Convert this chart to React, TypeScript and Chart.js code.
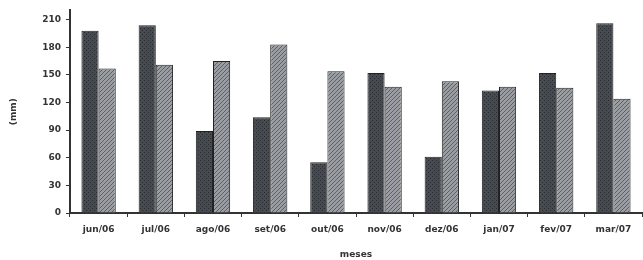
import React, { useEffect, useRef } from "react";
import { Chart, registerables } from "chart.js";

Chart.register(...registerables);

const categories = ["jun/06", "jul/06", "ago/06", "set/06", "out/06", "nov/06", "dez/06", "jan/07", "fev/07", "mar/07"];
const seriesDark = [198, 204, 89, 104, 55, 152, 61, 133, 152, 206];
const seriesLight = [157, 161, 165, 183, 154, 137, 143, 137, 136, 124];
const yTicks = [0, 30, 60, 90, 120, 150, 180, 210];
const yTitle = "(mm)";
const xTitle = "meses";

function makePattern(bg: string, fg: string, diagonal: boolean): CanvasPattern | string {
  const c = document.createElement("canvas");
  c.width = 4;
  c.height = 4;
  const ctx = c.getContext("2d");
  if (!ctx) return bg;
  ctx.fillStyle = bg;
  ctx.fillRect(0, 0, 4, 4);
  ctx.fillStyle = fg;
  if (diagonal) {
    for (let i = 0; i < 4; i++) ctx.fillRect(i, 3 - i, 1, 1);
  } else {
    ctx.fillRect(0, 0, 1, 1);
    ctx.fillRect(2, 2, 1, 1);
  }
  const p = ctx.createPattern(c, "repeat");
  return p || bg;
}

export default function App() {
  const ref = useRef<HTMLCanvasElement | null>(null);
  useEffect(() => {
    if (!ref.current) return;
    const font = { family: "'DejaVu Sans', sans-serif", size: 9, weight: "bold" as const };
    const chart = new Chart(ref.current, {
      type: "bar",
      data: {
        labels: categories,
        datasets: [
          {
            data: seriesDark,
            backgroundColor: makePattern("#464b51", "#272b30", false),
            borderColor: "#222",
            borderWidth: 1,
            categoryPercentage: 0.6,
            barPercentage: 1,
          },
          {
            data: seriesLight,
            backgroundColor: makePattern("#9a9ea2", "#5c6066", true),
            borderColor: "#222",
            borderWidth: 1,
            categoryPercentage: 0.6,
            barPercentage: 1,
          },
        ],
      },
      options: {
        animation: false,
        responsive: false,
        maintainAspectRatio: false,
        layout: { padding: { left: 8, right: 1, top: 0, bottom: 0 } },
        plugins: { legend: { display: false }, tooltip: { enabled: false } },
        scales: {
          x: {
            grid: { display: true, drawOnChartArea: false, drawTicks: true, tickLength: 4, color: "#333", lineWidth: 1, offset: true },
            border: { display: true, color: "#333", width: 2 },
            ticks: { color: "#333", font, padding: 7, maxRotation: 0, autoSkip: false },
            title: { display: true, text: xTitle, color: "#333", font, padding: { top: 4, bottom: 0 } },
            afterFit: (s: any) => { s.height = 47; },
          },
          y: {
            min: 0,
            max: 220,
            afterBuildTicks: (s: any) => { s.ticks = yTicks.map((v) => ({ value: v })); },
            grid: { display: true, drawOnChartArea: false, drawTicks: true, tickLength: 4, color: "#333", lineWidth: 1 },
            border: { display: true, color: "#333", width: 2 },
            ticks: { color: "#333", font, padding: 5 },
            title: { display: true, text: yTitle, color: "#333", font, padding: { top: 0, bottom: 6 } },
            afterFit: (s: any) => { s.width = 62; },
          },
        },
      },
    });
    return () => chart.destroy();
  }, []);
  return (
    <div style={{ position: "fixed", left: 0, top: 0, width: 643, height: 260, background: "#fff" }}>
      <canvas ref={ref} width={643} height={260} style={{ width: 643, height: 260 }} />
    </div>
  );
}
